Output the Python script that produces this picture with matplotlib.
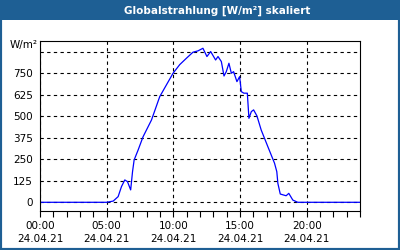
import matplotlib
matplotlib.use('Agg')
import matplotlib.pyplot as plt
from matplotlib.patches import Rectangle

# hours since midnight, 24.04.21
hours = [0.0, 5.0, 5.49, 5.86, 6.11, 6.36, 6.56, 6.80, 6.94, 7.06, 7.36, 7.73,
         8.36, 8.98, 9.48, 9.98, 10.48, 10.98, 11.47, 11.85, 12.22, 12.52,
         12.80, 13.17, 13.35, 13.60, 13.80, 13.97, 14.17, 14.35, 14.52, 14.77,
         14.97, 15.10, 15.29, 15.55, 15.67, 15.85, 16.02, 16.27, 16.59, 17.09,
         17.59, 17.76, 17.84, 18.02, 18.46, 18.66, 18.96, 19.33, 24.0]
radiation = [0, 0, 7, 33, 91, 130, 120, 72, 178, 246, 304, 381,
             478, 614, 682, 750, 800, 837, 872, 880, 895, 847,
             876, 827, 847, 818, 734, 759, 808, 750, 759, 701,
             730, 643, 634, 634, 488, 527, 537, 502, 420, 323,
             227, 178, 110, 48, 38, 52, 13, 0, 0]

xticks = [0, 5, 10, 15, 20]
xticklabels = ['00:00\n24.04.21', '05:00\n24.04.21', '10:00\n24.04.21',
               '15:00\n24.04.21', '20:00\n24.04.21']
ygrid = [0, 125, 250, 375, 500, 625, 750, 875]
yticklabels = ['0', '125', '250', '375', '500', '625', '750', '']

blue = '#1e5f94'
fig = plt.figure(figsize=(4, 2.5), dpi=100)
fig.patch.set_facecolor('white')
# frame and title bar
fig.patches.append(Rectangle((0, 0), 1, 1, transform=fig.transFigure,
                             facecolor='none', edgecolor=blue, linewidth=3))
fig.patches.append(Rectangle((0, 230 / 250), 1, 20 / 250, transform=fig.transFigure,
                             facecolor=blue, edgecolor='none'))
fig.text(0.543, 239.5 / 250, 'Globalstrahlung [W/m²] skaliert', color='white',
         fontsize=7.5, fontweight='bold', ha='center', va='center')

ax = fig.add_axes([40 / 400, 39 / 250, 320 / 400, 170.3 / 250])
ax.plot(hours, radiation, color='#0000ff', linewidth=0.9)
ax.set_xlim(0, 24)
ax.set_ylim(-50.6, 939)
ax.set_xticks(xticks)
ax.set_xticklabels(xticklabels, fontsize=7.5, linespacing=1.45)
ax.set_xticks(range(25), minor=True)
ax.set_yticks(ygrid)
ax.set_yticklabels(yticklabels, fontsize=7.5)
ax.tick_params(axis='y', length=0, pad=5)
ax.tick_params(axis='x', which='both', length=4, width=0.8, pad=3, direction='out')
ax.grid(True, color='black', linestyle=(0, (3, 3)), linewidth=0.8)
for s in ax.spines.values():
    s.set_linewidth(0.8)
fig.text(10 / 400, 205 / 250, 'W/m²', fontsize=7.5, ha='left', va='center')

fig.savefig('out.png', dpi=100)
